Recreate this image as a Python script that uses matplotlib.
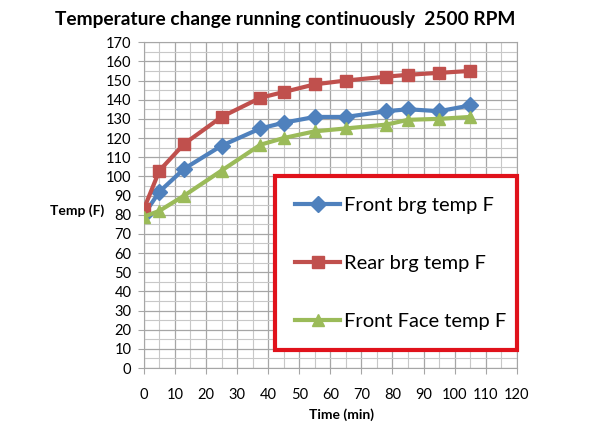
import matplotlib
matplotlib.use("Agg")
import matplotlib.pyplot as plt
from matplotlib.ticker import MultipleLocator

plt.rcParams['font.family'] = ['Lato', 'DejaVu Sans']

time_min = [0, 5, 13, 25, 37.5, 45, 55, 65, 78, 85, 95, 105]
front_brg = [80, 92, 104, 116, 125, 128, 131, 131, 134, 135, 134, 137]
rear_brg = [83, 103, 117, 131, 141, 144, 148, 150, 152, 153, 154, 155]
front_face = [79, 82, 90, 103, 116.5, 120, 123.5, 125, 127, 129.5, 130, 131]

series = [
    ("Front brg temp F", front_brg, "#4F81BD", "D", 8),
    ("Rear brg temp F", rear_brg, "#C0504D", "s", 8),
    ("Front Face temp F", front_face, "#9BBB59", "^", 9),
]

fig = plt.figure(figsize=(5.92, 4.44), dpi=100)
ax = fig.add_axes([0.243, 0.171, 0.630, 0.734])

for label, vals, color, marker, ms in series:
    ax.plot(time_min, vals, color=color, lw=3, marker=marker, ms=ms,
            label=label, zorder=3)

ax.set_xlim(0, 120)
ax.set_ylim(0, 170)
ax.xaxis.set_major_locator(MultipleLocator(10))
ax.yaxis.set_major_locator(MultipleLocator(10))
ax.xaxis.set_minor_locator(MultipleLocator(5))
ax.yaxis.set_minor_locator(MultipleLocator(5))
ax.grid(which='major', color='#a6a6a6', lw=0.9)
ax.grid(which='minor', color='#c8c8c8', lw=0.8)
ax.set_axisbelow(True)
for s in ax.spines.values():
    s.set_color('#a6a6a6')
ax.tick_params(which='major', direction='out', length=4, color='#a6a6a6',
               labelsize=10.5)
ax.tick_params(which='minor', length=0)
ax.tick_params(axis='x', pad=10)
ax.tick_params(axis='y', pad=5)

ax.set_xlabel('Time (min)', fontsize=10, fontweight='bold', labelpad=8)
ax.xaxis.set_label_coords(0.53, -0.125)
fig.text(0.085, 0.525, 'Temp (F)', fontsize=10, fontweight='bold',
         ha='left', va='center')
fig.text(0.482, 0.955, 'Temperature change running continuously  2500 RPM',
         fontsize=13.8, fontweight='bold', ha='center', va='center')

leg = ax.legend(loc='lower left', bbox_to_anchor=(0.351, 0.054, 0.649, 0.539),
                mode='expand', fontsize=14.5, handlelength=2.25,
                labelspacing=2.05, borderpad=1.0, handletextpad=0.2,
                fancybox=False, framealpha=1, borderaxespad=0)
leg.get_frame().set_edgecolor('#E0121B')
leg.get_frame().set_linewidth(3)

fig.savefig('out.png', dpi=100)
